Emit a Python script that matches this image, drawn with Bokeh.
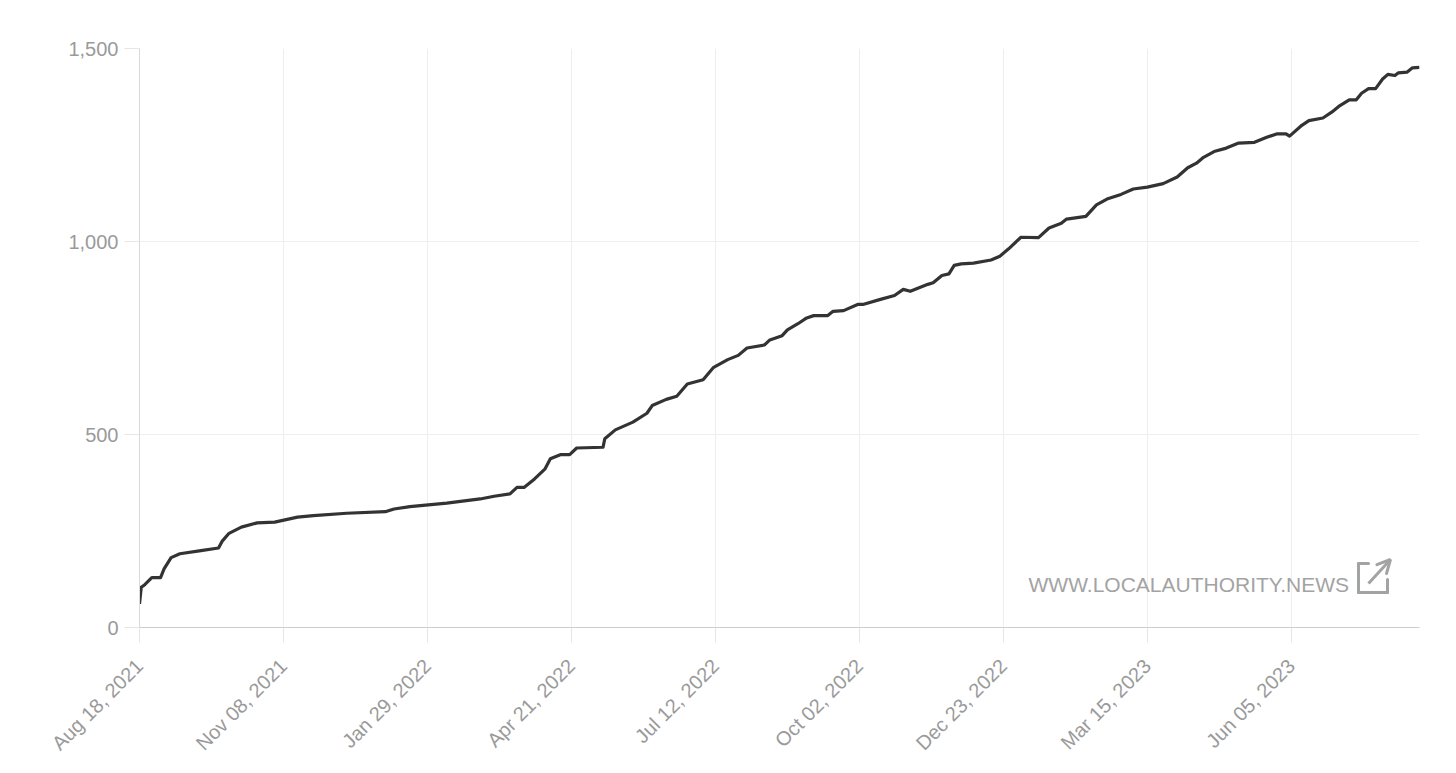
import math
import pandas as pd
from bokeh.plotting import figure
from bokeh.models import (Range1d, FixedTicker, DatetimeTickFormatter, NumeralTickFormatter,
                          Label, Arrow, OpenHead)
from bokeh.embed import file_html
from bokeh.resources import INLINE

# ---- data ----
start_date = "2021-08-18"
days_since_start = [0, 1, 3, 7, 12, 14, 18, 23, 35, 45, 47, 51, 58, 67, 77, 90, 99, 118, 140, 145,
                    154, 175, 194, 202, 211, 215, 219, 225, 231, 234, 240, 245, 249, 264, 265, 271,
                    281, 289, 292, 300, 306, 312, 321, 327, 335, 341, 346, 356, 359, 366, 369, 375,
                    380, 384, 392, 395, 401, 409, 412, 422, 430, 435, 439, 449, 452, 457, 461, 464,
                    468, 475, 485, 490, 495, 502, 512, 518, 525, 528, 539, 545, 551, 559, 566, 574,
                    583, 591, 597, 602, 606, 612, 619, 626, 635, 642, 648, 653, 655, 662, 666, 674,
                    679, 683, 689, 693, 696, 700, 704, 708, 711, 715, 717, 722, 725, 729]
cumulative = [61, 104, 111, 129, 129, 152, 181, 191, 199, 206, 223, 244, 260, 271, 273, 286, 290, 296,
              300, 307, 313, 322, 333, 340, 346, 363, 363, 385, 411, 437, 448, 448, 465, 467, 489,
              512, 532, 555, 575, 591, 599, 631, 642, 674, 694, 705, 724, 732, 745, 756, 771, 787,
              802, 808, 808, 819, 821, 837, 837, 850, 860, 876, 871, 889, 893, 912, 916, 938, 942,
              944, 952, 962, 981, 1011, 1010, 1035, 1047, 1058, 1065, 1095, 1110, 1122, 1136, 1141,
              1150, 1167, 1191, 1203, 1218, 1233, 1242, 1255, 1257, 1270, 1279, 1279, 1273, 1301,
              1313, 1320, 1335, 1350, 1367, 1367, 1384, 1396, 1396, 1421, 1433, 1430, 1437, 1439,
              1450, 1451]
x_tick_dates = ["2021-08-18", "2021-11-08", "2022-01-29", "2022-04-21", "2022-07-12",
                "2022-10-02", "2022-12-23", "2023-03-15", "2023-06-05"]
y_ticks = [0, 500, 1000, 1500]
watermark_text = "WWW.LOCALAUTHORITY.NEWS"

dates = pd.to_datetime(start_date) + pd.to_timedelta(days_since_start, unit="D")

FONT = "Liberation Sans"
LABEL_COLOR = "#9a9a9a"

p = figure(width=1448, height=765, x_axis_type="datetime", output_backend="svg",
           toolbar_location=None, background_fill_color="white", border_fill_color="white",
           x_range=Range1d(dates[0], dates[-1]), y_range=Range1d(0, 1500),
           min_border_left=139, min_border_right=29, min_border_top=48, min_border_bottom=138)
p.outline_line_color = None

p.line(dates, cumulative, line_color="#333333", line_width=3.2, line_join="round")

tick_ms = [pd.Timestamp(d).value / 1e6 for d in x_tick_dates]
fmt = "%b %d, %Y"
p.xaxis.ticker = FixedTicker(ticks=tick_ms)
p.xaxis.formatter = DatetimeTickFormatter(milliseconds=fmt, seconds=fmt, minsec=fmt, minutes=fmt,
                                          hourmin=fmt, hours=fmt, days=fmt, months=fmt, years=fmt)
p.yaxis.ticker = FixedTicker(ticks=y_ticks)
p.yaxis.formatter = NumeralTickFormatter(format="0,0")

for ax in (p.xaxis[0], p.yaxis[0]):
    ax.major_label_text_font = FONT
    ax.major_label_text_font_size = "20px"
    ax.major_label_text_color = LABEL_COLOR
    ax.major_tick_in = 0
    ax.major_tick_out = 15
    ax.major_tick_line_color = "#e6e6e6"
    ax.minor_tick_line_color = None
    ax.major_label_standoff = 6

p.xaxis.axis_line_color = "#cccccc"
p.yaxis.axis_line_color = "#d9d9d9"
p.xaxis.major_label_orientation = math.pi / 4
p.xaxis.major_label_standoff = 20

p.xgrid.grid_line_color = "#eeeeee"
p.ygrid.grid_line_color = "#eeeeee"
p.xgrid.ticker = FixedTicker(ticks=tick_ms)
p.ygrid.ticker = FixedTicker(ticks=y_ticks)

# watermark text and external-link icon (screen units, relative to the plot frame)
p.add_layout(Label(x=889, y=43, x_units="screen", y_units="screen", text=watermark_text,
                   text_font=FONT, text_font_size="21px", text_color="#a3a3a3",
                   text_baseline="middle", text_align="left"))
icon_color = "#a3a3a3"
segments = [((1229, 64), (1219, 64)), ((1219, 64), (1219, 35)),
            ((1219, 35), (1248, 35)), ((1248, 35), (1248, 48))]
for (x0, y0), (x1, y1) in segments:
    p.add_layout(Arrow(x_start=x0, y_start=y0, x_end=x1, y_end=y1, start_units="screen",
                       end_units="screen", start=None, end=None, line_color=icon_color,
                       line_width=3, line_cap="round"))
p.add_layout(Arrow(x_start=1229, y_start=44, x_end=1251, y_end=68, start_units="screen",
                   end_units="screen", start=None,
                   end=OpenHead(size=13, line_width=3, line_color=icon_color, line_cap="round"),
                   line_color=icon_color, line_width=3))

open("out.html", "w").write(file_html(p, INLINE))
